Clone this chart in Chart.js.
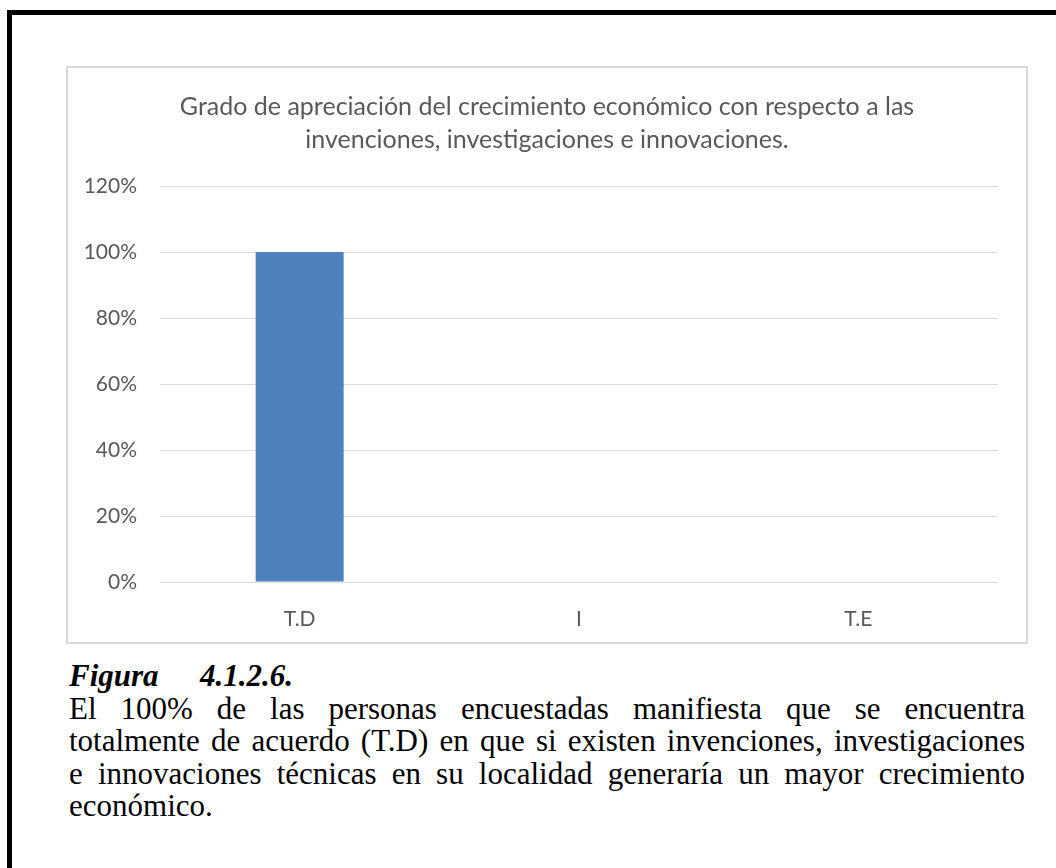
<!DOCTYPE html>
<html>
<head>
<meta charset="utf-8">
<script src="https://cdn.jsdelivr.net/npm/chart.js@4"></script>
<style>
  html, body { margin: 0; padding: 0; background: #fff; overflow: hidden; }
  body { width: 1056px; height: 868px; position: relative; }
  #pageBorder {
    position: absolute; left: 7px; top: 10px; width: 2000px; height: 2000px;
    border-left: 5px solid #000; border-top: 5px solid #000;
  }
  #chartFrame {
    position: absolute; left: 66px; top: 66px; width: 958px; height: 574px;
    border: 2px solid #d9d9d9; background: #fff;
  }
  #caption {
    position: absolute; left: 69px; top: 660px; width: 956px;
    font-family: "Liberation Serif", "Times New Roman", serif; font-size: 31px;
    line-height: 32.5px; color: #000;
  }
  #caption .head { font-weight: bold; font-style: italic; }
  #caption .head .lbl { display: inline-block; width: 131px; }
  #caption .jl { text-align: justify; text-align-last: justify; white-space: nowrap; }
</style>
</head>
<body>
<div id="pageBorder"></div>
<div id="chartFrame"><canvas id="barChart" width="958" height="574"></canvas></div>
<div id="caption">
  <div class="head"><span class="lbl">Figura</span>4.1.2.6.</div>
  <div class="jl">El 100% de las personas encuestadas manifiesta que se encuentra</div>
  <div class="jl">totalmente de acuerdo (T.D) en que si existen invenciones, investigaciones</div>
  <div class="jl">e innovaciones técnicas en su localidad generaría un mayor crecimiento</div>
  <div>económico.</div>
</div>
<script>
// chart data
const categories = ['T.D', 'I', 'T.E'];
const percentValues = [1, 0, 0];
const titleLines = [
  'Grado de apreciación del crecimiento económico con respecto a las',
  'invenciones, investigaciones e innovaciones.'
];
const yMin = 0;
const yMax = 1.2;
const yStep = 0.2;

const textGray = '#595959';
const gridGray = '#d9d9d9';

const ctx = document.getElementById('barChart').getContext('2d');
const barChart = new Chart(ctx, {
  type: 'bar',
  data: {
    labels: categories,
    datasets: [{
      label: 'Porcentaje',
      data: percentValues,
      backgroundColor: '#4f81bd',
      borderWidth: 0,
      barPercentage: 0.315,
      categoryPercentage: 1
    }]
  },
  options: {
    responsive: false,
    devicePixelRatio: 1,
    animation: false,
    layout: { padding: 0 },
    plugins: {
      legend: { display: false },
      tooltip: { enabled: false },
      title: {
        display: true,
        text: titleLines,
        color: textGray,
        font: { family: 'Lato', size: 25, weight: 'normal', lineHeight: 33 / 25 },
        padding: { top: 22.5, bottom: 29.5 }
      }
    },
    scales: {
      x: {
        grid: { display: false },
        border: { display: false },
        ticks: {
          color: textGray,
          padding: 17,
          font: { family: 'Lato', size: 21 }
        },
        afterFit: (scale) => { scale.height = 60; }
      },
      y: {
        min: yMin,
        max: yMax,
        grid: { color: gridGray, lineWidth: 1, drawTicks: false },
        border: { display: false },
        ticks: {
          stepSize: yStep,
          color: textGray,
          padding: 23,
          font: { family: 'Lato', size: 21 },
          callback: (v) => Math.round(v * 100) + '%'
        },
        afterFit: (scale) => { scale.width = 92; }
      },
      // empty right axis, only keeps the right margin of the plot
      yRight: {
        position: 'right',
        grid: { display: false },
        border: { display: false },
        ticks: { display: false },
        afterFit: (scale) => { scale.width = 28; }
      }
    }
  }
});
</script>
</body>
</html>
